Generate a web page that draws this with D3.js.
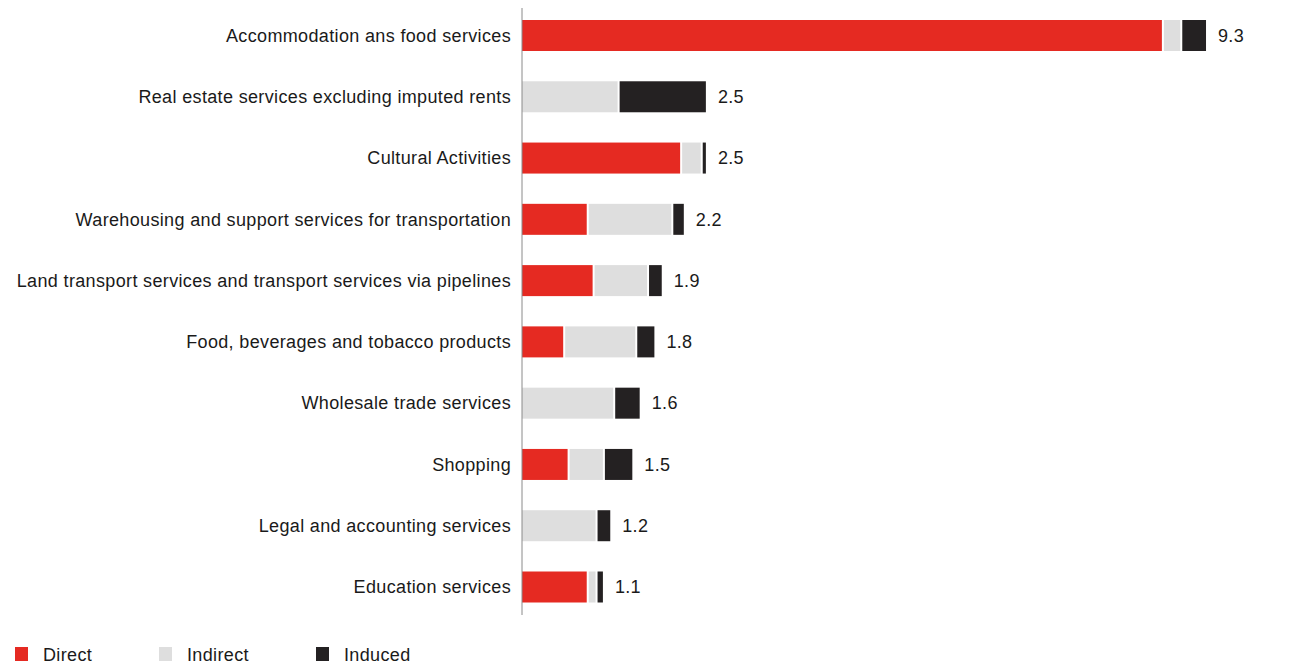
<!DOCTYPE html>
<html>
<head>
<meta charset="utf-8">
<script src="https://cdn.jsdelivr.net/npm/d3@7"></script>
<style>
  html, body { margin: 0; padding: 0; background: #fff; }
  svg { display: block; font-family: "Liberation Sans", Arial, Helvetica, sans-serif; }
</style>
</head>
<body>
<svg id="chart" width="1293" height="666"></svg>
<script>
// Sectors, top to bottom
const categories = [
  "Accommodation ans food services",
  "Real estate services excluding imputed rents",
  "Cultural Activities",
  "Warehousing and support services for transportation",
  "Land transport services and transport services via pipelines",
  "Food, beverages and tobacco products",
  "Wholesale trade services",
  "Shopping",
  "Legal and accounting services",
  "Education services"
];

// Effect components per sector
const direct   = [8.70, 0.00, 2.15, 0.88, 0.96, 0.56, 0.00, 0.62, 0.00, 0.88];
const indirect = [0.25, 1.30, 0.28, 1.15, 0.74, 0.98, 1.24, 0.48, 1.00, 0.12];
const induced  = [0.35, 1.20, 0.07, 0.17, 0.20, 0.26, 0.36, 0.40, 0.20, 0.10];

const seriesNames  = ["Direct", "Indirect", "Induced"];
const seriesColors = ["#e52a22", "#dedede", "#242122"];

const rows = categories.map((c, i) => ({
  category: c,
  Direct: direct[i],
  Indirect: indirect[i],
  Induced: induced[i]
}));

const svg = d3.select("#chart");

const x = d3.scaleLinear().domain([0, 10]).range([522, 1257.5]);
const yc = d3.scalePoint().domain(categories).range([35.5, 587]);
const barH = 31;
const gap = 2;
const fontSize = 18;
const spacing = "0.35px";

const stack = d3.stack().keys(seriesNames);
const layers = stack(rows);
const color = d3.scaleOrdinal().domain(seriesNames).range(seriesColors);

// Stacked segments, separated by a thin white gap
svg.append("g").selectAll("g")
  .data(layers)
  .join("g")
  .attr("fill", d => color(d.key))
  .selectAll("rect")
  .data(d => d.map(s => ({ s0: s[0], s1: s[1], cat: s.data.category })))
  .join("rect")
  .filter(d => d.s1 - d.s0 > 0)
  .attr("x", d => x(d.s0) + (d.s0 > 0 ? gap : 0))
  .attr("y", d => yc(d.cat) - barH / 2)
  .attr("width", d => Math.max(1, x(d.s1) - x(d.s0) - (d.s0 > 0 ? gap : 0)))
  .attr("height", barH);

// Category axis line
svg.append("line")
  .attr("x1", x(0)).attr("x2", x(0))
  .attr("y1", 8).attr("y2", 615)
  .attr("stroke", "#8a8a8a").attr("stroke-width", 1);

// Category labels
svg.append("g").selectAll("text")
  .data(categories)
  .join("text")
  .attr("x", x(0) - 11)
  .attr("y", d => yc(d))
  .attr("dy", "0.35em")
  .attr("text-anchor", "end")
  .attr("font-size", fontSize)
  .attr("letter-spacing", spacing)
  .attr("fill", "#1a1a1a")
  .text(d => d);

// Totals at bar ends
const totals = rows.map(r => r.Direct + r.Indirect + r.Induced);
svg.append("g").selectAll("text")
  .data(rows)
  .join("text")
  .attr("x", (d, i) => x(totals[i]) + 12)
  .attr("y", d => yc(d.category))
  .attr("dy", "0.35em")
  .attr("font-size", fontSize)
  .attr("letter-spacing", spacing)
  .attr("fill", "#1a1a1a")
  .text((d, i) => d3.format(".1f")(totals[i]));

// Legend
const legendX = [15, 159, 316];
const legend = svg.append("g").selectAll("g")
  .data(seriesNames)
  .join("g")
  .attr("transform", (d, i) => `translate(${legendX[i]},647)`);
legend.append("rect")
  .attr("width", 13).attr("height", 14)
  .attr("fill", d => color(d));
legend.append("text")
  .attr("x", 28).attr("y", 8)
  .attr("dy", "0.35em")
  .attr("font-size", fontSize)
  .attr("letter-spacing", spacing)
  .attr("fill", "#1a1a1a")
  .text(d => d);
</script>
</body>
</html>
